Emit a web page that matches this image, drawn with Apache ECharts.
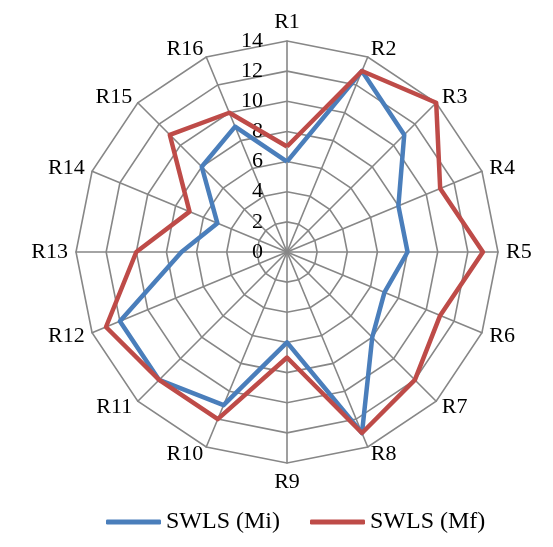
<!DOCTYPE html>
<html>
<head>
<meta charset="utf-8">
<script src="https://cdn.jsdelivr.net/npm/echarts@6/dist/echarts.min.js"></script>
<style>
  html, body { margin: 0; padding: 0; background: #ffffff; }
  #chart { width: 553px; height: 547px; }
</style>
</head>
<body>
<div id="chart"></div>
<script>
// Region labels around the radar, clockwise from the top
const regions = ['R1', 'R2', 'R3', 'R4', 'R5', 'R6', 'R7', 'R8',
                 'R9', 'R10', 'R11', 'R12', 'R13', 'R14', 'R15', 'R16'];

// SWLS scores per region
const swlsMi = [6, 13, 11, 8, 8, 7, 8, 13, 6, 11, 12, 12, 7, 5, 8, 9];
const swlsMf = [7, 13, 14, 11, 13, 11, 12, 13, 7, 12, 12, 13, 10, 7, 11, 10];

const seriesNames = ['SWLS (Mi)', 'SWLS (Mf)'];
const seriesColors = ['#4A7EBB', '#BE4B48'];

const scaleMax = 14;
const scaleSteps = 7;

const FONT = 'Liberation Serif';
const GRID = '#878787';

// The radar lays indicators out counter-clockwise; walk the regions
// backwards after the first so they read clockwise from the top.
const order = [0].concat(regions.slice(1).map((_, i) => regions.length - 1 - i));
const pick = arr => order.map(i => arr[i]);

const chart = echarts.init(document.getElementById('chart'), null, { renderer: 'canvas' });

// Only the first spoke carries the 0..14 scale labels
const indicators = order.map((idx, i) => ({
  name: regions[idx],
  min: 0,
  max: scaleMax,
  axisLabel: { show: i === 0 }
}));

chart.setOption({
  animation: false,
  backgroundColor: '#ffffff',
  legend: {
    data: seriesNames,
    bottom: 8,
    left: 101,
    icon: 'roundRect',
    itemWidth: 55,
    itemHeight: 5,
    itemGap: 30,
    textStyle: { fontFamily: FONT, fontSize: 24, color: '#000' }
  },
  radar: {
    center: [287, 252],
    radius: 211,
    shape: 'polygon',
    splitNumber: scaleSteps,
    startAngle: 90,
    indicator: indicators,
    axisName: { color: '#000', fontFamily: FONT, fontSize: 22 },
    nameGap: 8,
    axisLine: { lineStyle: { color: GRID, width: 1.6 } },
    splitLine: { lineStyle: { color: GRID, width: 1.6 } },
    splitArea: { show: false },
    axisTick: { show: false },
    axisLabel: {
      show: false,
      color: '#000',
      fontFamily: FONT,
      fontSize: 22,
      margin: 24
    }
  },
  series: [{
    type: 'radar',
    symbol: 'none',
    data: seriesNames.map((name, k) => ({
      name: name,
      value: pick(k === 0 ? swlsMi : swlsMf),
      lineStyle: { color: seriesColors[k], width: 4.5 },
      itemStyle: { color: seriesColors[k] }
    }))
  }]
});
</script>
</body>
</html>
